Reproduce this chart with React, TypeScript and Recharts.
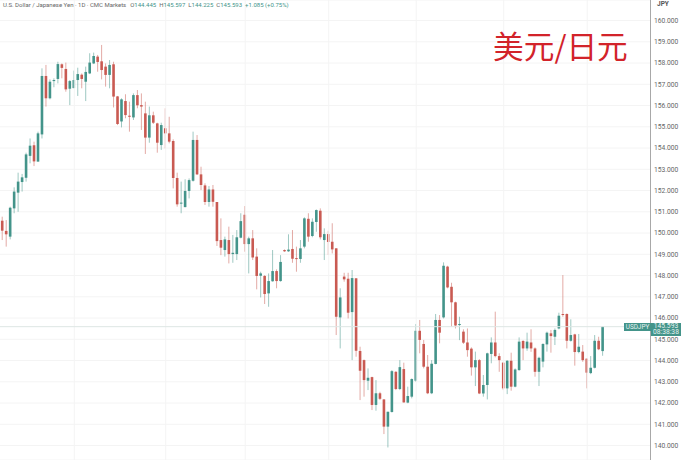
import { Bar, ComposedChart, CartesianGrid, ReferenceLine, XAxis, YAxis } from "recharts"

// one candle per trading day, oldest first: open, high, low, close
const opens = [
  150.58, 150.10, 149.83, 151.16, 151.90, 152.40, 152.60, 153.63, 154.13, 153.36,
  154.64, 157.39, 156.34, 157.15, 157.25, 157.94, 157.72, 156.79, 156.82, 157.20,
  157.45, 157.12, 157.51, 157.98, 158.30, 158.08, 157.83, 157.44, 157.94, 156.43,
  155.25, 156.21, 155.52, 155.44, 156.49, 156.02, 155.63, 154.49, 155.54, 155.16,
  154.14, 154.93, 154.69, 154.33, 152.59, 151.40, 151.22, 151.98, 152.46, 154.38,
  152.76, 152.24, 151.46, 152.05, 151.46, 149.67, 149.20, 149.67, 149.01, 149.01,
  149.78, 150.86, 149.48, 149.75, 148.89, 147.99, 147.98, 147.16, 147.73, 148.21,
  147.74, 149.20, 149.14, 149.25, 148.82, 148.78, 149.36, 150.67, 149.86, 150.52,
  151.05, 149.67, 149.95, 149.59, 149.28, 146.03, 147.95, 147.85, 146.28, 147.87,
  144.45, 144.02, 143.05, 143.22, 141.91, 142.46, 142.17, 140.89, 141.58, 143.47,
  142.66, 143.60, 142.02, 142.30, 143.05, 145.40, 144.78, 143.71, 142.46, 143.84,
  145.91, 146.03, 148.42, 147.47, 146.74, 145.67, 145.36, 144.85, 144.56, 143.68,
  144.02, 142.45, 142.85, 144.31, 144.85, 144.21, 143.90, 142.69, 143.99, 142.77,
  143.55, 144.92, 144.57, 144.85, 144.57, 143.47, 143.95, 144.76, 145.28, 145.12,
  145.51, 146.19, 146.19, 144.93, 145.23, 144.40, 144.42, 144.09, 143.41, 143.66,
  144.93, 144.445,
]
const highs = [
  150.77, 150.61, 151.24, 152.15, 152.84, 152.78, 153.78, 154.45, 154.30, 154.77,
  157.75, 157.91, 157.23, 157.28, 158.06, 157.98, 158.02, 157.20, 157.64, 157.78,
  157.51, 157.83, 158.46, 158.49, 158.38, 158.85, 157.98, 158.14, 158.06, 156.45,
  156.34, 156.53, 156.18, 156.57, 156.73, 156.57, 156.18, 155.95, 155.71, 155.19,
  155.19, 155.87, 155.47, 154.41, 152.84, 152.42, 152.53, 152.57, 154.77, 154.61,
  153.12, 152.34, 152.21, 152.26, 151.46, 150.69, 149.83, 150.30, 149.91, 150.14,
  150.93, 151.27, 149.83, 150.14, 149.28, 148.18, 148.02, 148.10, 149.20, 148.29,
  148.96, 149.23, 149.94, 150.14, 149.36, 149.67, 150.74, 150.93, 150.69, 151.11,
  151.16, 150.22, 150.11, 150.46, 149.28, 147.40, 148.13, 148.13, 148.26, 147.87,
  144.65, 144.05, 143.63, 143.24, 143.08, 142.53, 142.19, 141.59, 143.55, 143.50,
  144.02, 143.90, 142.77, 143.16, 145.72, 145.91, 144.97, 144.26, 144.02, 146.19,
  146.14, 148.62, 148.46, 147.66, 146.77, 146.06, 145.47, 145.51, 144.62, 144.42,
  144.07, 143.32, 144.37, 145.09, 146.30, 144.34, 143.94, 144.02, 144.37, 143.63,
  145.09, 144.96, 145.31, 145.47, 144.62, 144.18, 144.81, 145.36, 145.44, 145.51,
  146.25, 148.02, 146.22, 145.94, 145.26, 145.25, 144.73, 144.10, 144.21, 145.20,
  145.12, 145.597,
]
const lows = [
  149.67, 149.36, 149.70, 150.93, 151.00, 151.95, 152.42, 153.28, 153.15, 153.36,
  154.45, 155.95, 156.29, 156.86, 157.04, 157.28, 156.65, 156.02, 156.81, 156.45,
  156.81, 156.21, 157.48, 157.95, 157.59, 157.23, 156.89, 156.81, 155.91, 155.08,
  154.97, 155.40, 154.77, 155.32, 155.87, 154.85, 153.72, 154.25, 155.13, 153.78,
  153.91, 153.98, 154.22, 152.10, 151.24, 150.93, 151.21, 151.63, 152.42, 152.73,
  152.02, 151.32, 151.24, 151.24, 149.39, 148.96, 148.89, 148.57, 148.60, 148.73,
  149.75, 149.12, 148.10, 148.73, 147.35, 146.97, 146.66, 146.53, 147.71, 147.40,
  147.71, 149.11, 149.11, 148.60, 148.18, 148.60, 149.28, 149.59, 149.80, 150.06,
  149.70, 148.73, 148.97, 149.04, 145.20, 144.57, 147.71, 145.98, 144.02, 144.18,
  142.14, 142.30, 142.61, 141.67, 141.64, 142.14, 140.54, 139.91, 141.55, 142.61,
  142.61, 142.02, 141.99, 142.22, 143.00, 144.34, 143.63, 142.42, 142.42, 143.82,
  144.81, 145.98, 147.40, 145.59, 145.51, 144.96, 144.78, 144.18, 143.29, 142.80,
  142.42, 142.30, 142.17, 143.87, 144.15, 143.47, 142.61, 142.42, 142.58, 142.74,
  143.52, 144.02, 144.46, 144.41, 143.24, 142.80, 143.68, 144.42, 144.37, 144.73,
  145.47, 146.06, 144.57, 144.89, 143.76, 144.34, 143.94, 142.69, 143.36, 143.63,
  144.49, 144.225,
]
const closes = [
  150.11, 149.94, 151.19, 151.95, 152.42, 152.62, 153.70, 154.11, 153.37, 154.69,
  157.39, 156.34, 157.12, 157.20, 157.95, 157.77, 156.76, 157.15, 157.20, 157.48,
  157.25, 157.58, 158.02, 158.33, 158.05, 157.67, 157.44, 157.91, 156.42, 155.13,
  156.29, 155.55, 155.47, 156.49, 156.01, 155.95, 154.49, 155.54, 155.19, 154.25,
  155.08, 154.69, 154.30, 152.59, 151.35, 151.43, 151.98, 152.49, 154.38, 152.76,
  152.26, 151.46, 152.05, 151.47, 149.62, 149.31, 149.70, 149.01, 149.07, 149.80,
  150.56, 149.48, 149.75, 148.85, 147.98, 148.10, 147.13, 147.74, 148.21, 147.74,
  148.64, 149.14, 149.22, 148.79, 148.78, 149.28, 150.69, 149.83, 150.53, 151.08,
  149.80, 149.95, 149.58, 149.23, 146.06, 146.97, 147.82, 146.25, 147.88, 144.46,
  143.52, 143.08, 143.19, 141.91, 142.46, 142.20, 140.89, 141.59, 143.50, 142.66,
  143.69, 142.03, 142.33, 143.13, 145.40, 144.97, 143.71, 142.46, 143.85, 145.91,
  145.31, 148.46, 147.44, 146.74, 145.65, 145.72, 144.84, 144.49, 143.68, 144.02,
  142.45, 142.85, 144.34, 144.85, 144.21, 144.02, 142.69, 143.99, 142.77, 143.58,
  144.89, 144.57, 144.89, 144.57, 143.47, 144.13, 144.78, 145.31, 145.15, 145.44,
  146.11, 146.16, 144.93, 145.20, 144.40, 144.65, 144.02, 143.43, 143.66, 144.93,
  144.53, 145.593,
]

const yTicks = [140, 141, 142, 143, 144, 145, 146, 147, 148, 149, 150, 151, 152, 153, 154, 155, 156, 157, 158, 159, 160]
// candle index where the time axis grid falls
const monthStarts = [18, 41, 61, 82, 104, 126, 147]
const lastPrice = 145.593

const UP = "#43948a"
const DOWN = "#c95a52"
const FONT = "Roboto, Arial, sans-serif"

const candles = opens.map((open, i) => ({
  i,
  open,
  high: highs[i],
  low: lows[i],
  close: closes[i],
  range: [lows[i], highs[i]],
}))

function Candle(props: any) {
  const { x, y, width, height, payload } = props
  const cx = x + width / 2
  const perUnit = height / (payload.high - payload.low)
  const up = payload.close >= payload.open
  const color = up ? UP : DOWN
  const bodyTop = y + (payload.high - Math.max(payload.open, payload.close)) * perUnit
  const bodyH = Math.max(Math.abs(payload.close - payload.open) * perUnit, 1)
  return (
    <g>
      <line x1={cx} x2={cx} y1={y} y2={y + height} stroke={color} strokeOpacity={0.65} strokeWidth={0.8} />
      <rect x={cx - 1.3} y={bodyTop} width={2.6} height={bodyH} fill={color} />
    </g>
  )
}

export default function App() {
  return (
    <div style={{ position: "absolute", left: 0, top: 0, width: 681, height: 460, background: "#fff", overflow: "hidden" }}>
      <ComposedChart width={681} height={460} data={candles} margin={{ top: 0, right: 0, bottom: 0, left: 0 }}>
        <CartesianGrid stroke="#f4f4f4" vertical={false} />
        <XAxis dataKey="i" type="number" domain={[-0.68, 162.92]} allowDataOverflow hide />
        <YAxis
          orientation="right"
          width={30.5}
          domain={[139.32, 160.965]}
          allowDataOverflow
          ticks={yTicks}
          interval={0}
          tickLine={false}
          tickSize={0}
          axisLine={{ stroke: "#a8a8a8" }}
          tickMargin={3.5}
          tick={{ fontSize: 6.7, fill: "#666", fontFamily: FONT }}
          tickFormatter={(v: number) => v.toFixed(3)}
        />
        {monthStarts.map((m) => (
          <ReferenceLine key={m} x={m} stroke="#f4f4f4" />
        ))}
        <ReferenceLine y={lastPrice} stroke="#dde6e4" />
        <Bar dataKey="range" barSize={3} shape={<Candle />} isAnimationActive={false} />
      </ComposedChart>

      <div style={{ position: "absolute", left: 3, top: 0, fontFamily: FONT, fontSize: 6, lineHeight: "9px", color: "#666", whiteSpace: "nowrap" }}>
        U.S. Dollar / Japanese Yen · 1D · CMC Markets
        <span style={{ marginLeft: 4 }}>O</span><span style={{ color: UP }}>144.445</span>
        <span style={{ marginLeft: 3 }}>H</span><span style={{ color: UP }}>145.597</span>
        <span style={{ marginLeft: 3 }}>L</span><span style={{ color: UP }}>144.225</span>
        <span style={{ marginLeft: 3 }}>C</span><span style={{ color: UP }}>145.593</span>
        <span style={{ color: UP, marginLeft: 3 }}>+1.085 (+0.75%)</span>
      </div>

      <div style={{ position: "absolute", left: 657, top: 0, fontFamily: FONT, fontSize: 6.5, lineHeight: "9px", fontWeight: 700, color: "#555" }}>JPY</div>

      <div style={{ position: "absolute", left: 493, top: 22, fontFamily: "'Noto Sans CJK SC'", fontSize: 30.7, lineHeight: "46px", color: "#d2232a", whiteSpace: "nowrap" }}>
        美元/日元
      </div>

      <div style={{ position: "absolute", left: 624, top: 322.5, width: 27, height: 8, background: UP, color: "#e8f3f1", fontFamily: FONT, fontSize: 6.4, lineHeight: "8px", textAlign: "center" }}>
        USDJPY
      </div>
      <div style={{ position: "absolute", left: 651, top: 322.5, width: 30, height: 13.5, background: UP, color: "#e8f3f1", fontFamily: FONT, fontSize: 6.7, lineHeight: "6.9px", textAlign: "center" }}>
        145.593
        <br />
        08:38:38
      </div>
    </div>
  )
}
